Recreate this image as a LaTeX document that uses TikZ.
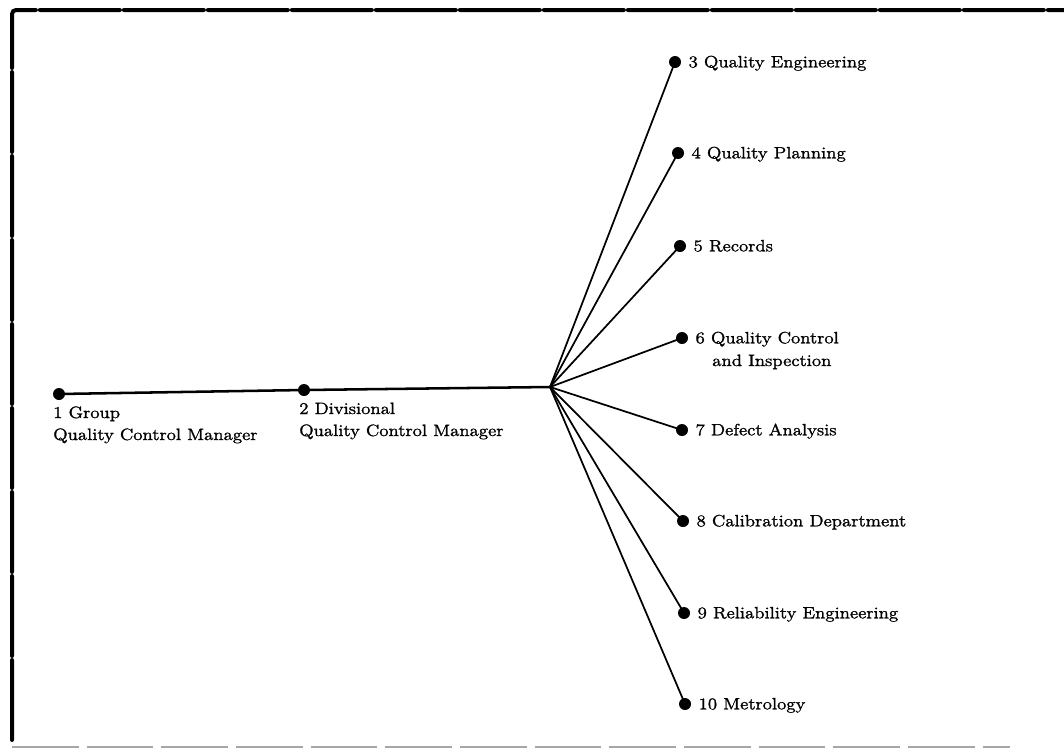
\documentclass[tikz,border=0pt]{standalone}
\usepackage{fontspec}
\setmainfont{Latin Modern Roman}[FakeStretch=1.15,FakeBold=1.5]
\begin{document}
\begin{tikzpicture}[x=0.75pt,y=-0.75pt,
  dot/.style={circle,fill=black,inner sep=0pt,minimum size=9pt},
  lbl/.style={inner sep=0pt,anchor=base west,font=\fontsize{12.3}{16.5}\selectfont},
  trunk/.style={line width=1.9pt},
  spoke/.style={line width=1.3pt},
  frame/.style={line width=3pt,dash pattern=on 60pt off 3pt,line cap=round,rounded corners=3pt}]
\useasboundingbox (0,0) rectangle (1064,750);
% frame
\draw[frame] (12,740) -- (12,10) -- (1064,10);
\draw[line width=2pt,gray!70,dash pattern=on 50pt off 6pt] (12,747) -- (1010,747);
% nodes
\node[dot] (n1) at (59,394) {};
\node[dot] (n2) at (304,390) {};
\coordinate (hub) at (550,387);
\node[dot] (n3) at (675,62) {};
\node[dot] (n4) at (678,153) {};
\node[dot] (n5) at (680,246) {};
\node[dot] (n6) at (682,338) {};
\node[dot] (n7) at (682,430) {};
\node[dot] (n8) at (683,521) {};
\node[dot] (n9) at (684,613) {};
\node[dot] (n10) at (685,704) {};
% connectors
\draw[trunk] (n1.center) -- (n2.center) -- (hub);
\foreach \n in {n3,n4,n5,n6,n7,n8,n9,n10}
  \draw[spoke] (hub) -- (\n.center);
% labels
\node[lbl] (t1) at (53,418) {1 Group};
\node[lbl] (t1b) at (53,440) {Quality Control Manager};
\node[lbl] (t2) at (299,414) {2 Divisional};
\node[lbl] (t2b) at (299,436) {Quality Control Manager};
\node[lbl] (t3) at ([xshift=10pt,yshift=-4pt]n3.center) {3 Quality Engineering};
\node[lbl] (t4) at ([xshift=10pt,yshift=-4pt]n4.center) {4 Quality Planning};
\node[lbl] (t5) at ([xshift=10pt,yshift=-4pt]n5.center) {5 Records};
\node[lbl] (t6) at ([xshift=10pt,yshift=-4pt]n6.center) {6 Quality Control};
\node[lbl] (t6b) at ([xshift=22.5pt,yshift=-21pt]n6.center) {and Inspection};
\node[lbl] (t7) at ([xshift=10pt,yshift=-4pt]n7.center) {7 Defect Analysis};
\node[lbl] (t8) at ([xshift=10pt,yshift=-4pt]n8.center) {8 Calibration Department};
\node[lbl] (t9) at ([xshift=10pt,yshift=-4pt]n9.center) {9 Reliability Engineering};
\node[lbl] (t10) at ([xshift=10pt,yshift=-4pt]n10.center) {10 Metrology};
\end{tikzpicture}
\end{document}
